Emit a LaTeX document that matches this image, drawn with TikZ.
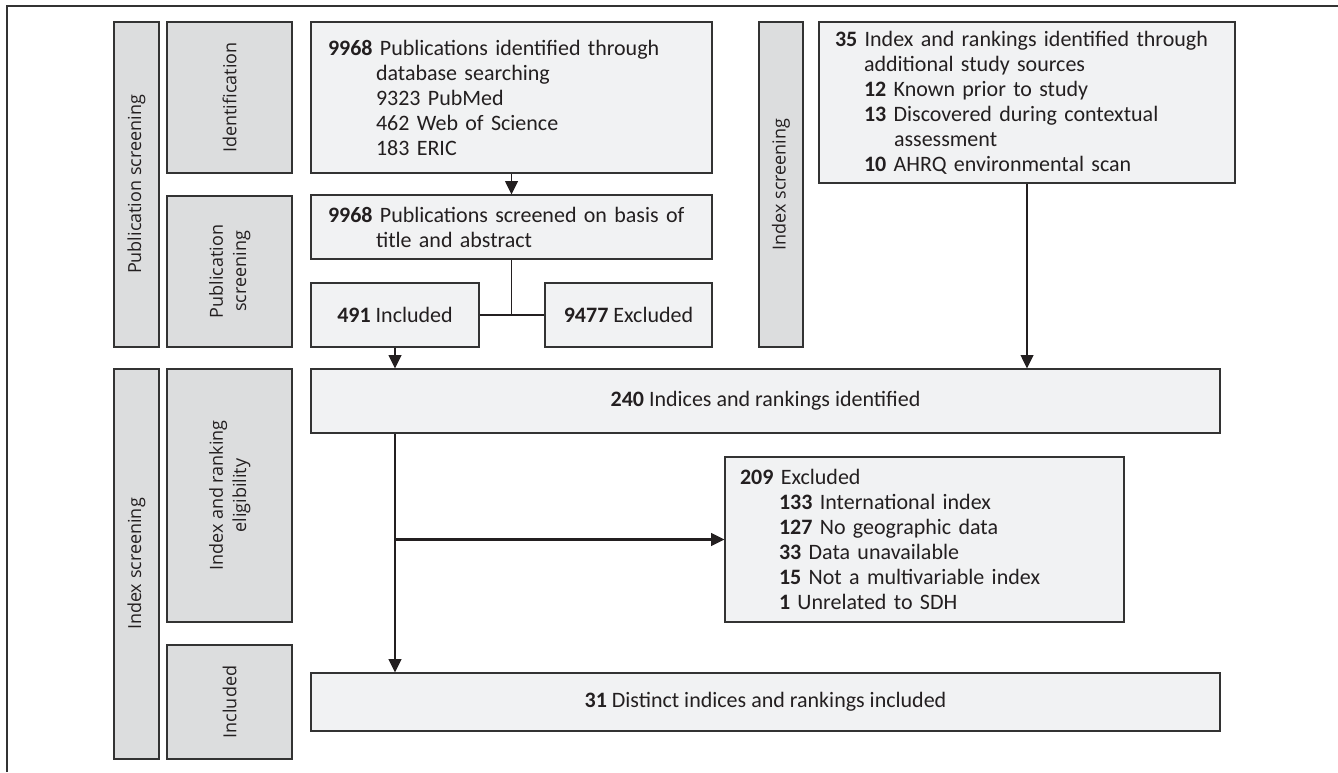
\documentclass[tikz,border=0pt]{standalone}
\usepackage{fontspec}
\setmainfont{Carlito}
\newfontfamily\bandfont{Open Sans}
\usetikzlibrary{arrows.meta,shadows}
\definecolor{bandfill}{HTML}{DCDDDE}
\definecolor{boxfill}{HTML}{F1F2F3}
\definecolor{edge}{HTML}{333333}
\definecolor{ink}{HTML}{231F20}
\begin{document}
\begin{tikzpicture}[x=0.75pt,y=-0.75pt,
  shadowed/.style={drop shadow={shadow xshift=0.9pt,shadow yshift=-0.9pt,fill=black!45,opacity=1}},
  band/.style={shadowed,draw=edge,line width=0.9pt,fill=bandfill,inner sep=0pt,text=ink,
    font=\bandfont\fontsize{13.5}{18.5}\selectfont},
  box/.style={shadowed,draw=edge,line width=0.9pt,fill=boxfill,inner sep=0pt,text=ink,
    font=\fontsize{16.5}{18.75}\selectfont},
  lbox/.style={box,align=left},
  cbox/.style={box,align=center},
  conn/.style={line width=1.4pt,draw=ink},
  thinconn/.style={line width=0.9pt,draw=ink},
  arr/.style={conn,-{Triangle[length=10pt,width=9.5pt]}}]
\useasboundingbox (0,0) rectangle (1338,772);
% frame
\draw[line width=1.5pt,edge] (7,772) -- (7,6) -- (1338,6);
% bands
\node[band,minimum width=33.75pt,minimum height=243.75pt] (pso) at (136.5,184.5)
  {\rotatebox{90}{Publication screening}};
\node[band,minimum width=93.75pt,minimum height=113.25pt] (ident) at (229.5,97.5)
  {\rotatebox{90}{Identification}};
\node[band,minimum width=93.75pt,minimum height=113.25pt] (psi) at (229.5,271.5)
  {\rotatebox{90}{\begin{tabular}{@{}c@{}}Publication\\[-1pt]screening\end{tabular}}};
\node[band,minimum width=33pt,minimum height=243.75pt] (ist) at (781,184.5)
  {\rotatebox{90}{Index screening}};
\node[band,minimum width=33.75pt,minimum height=292.5pt] (iso) at (136.5,564)
  {\rotatebox{90}{Index screening}};
\node[band,minimum width=93.75pt,minimum height=189.75pt] (elig) at (229.5,495.5)
  {\rotatebox{90}{\begin{tabular}{@{}c@{}}Index and ranking\\[-1pt]eligibility\end{tabular}}};
\node[band,minimum width=93.75pt,minimum height=85.5pt] (incl) at (229.5,702)
  {\rotatebox{90}{Included}};
% boxes
\node[lbox,minimum width=300.75pt,minimum height=113.25pt,text width=275.25pt] (b1) at (511.5,97.5)
  {\textbf{9968} Publications identified through\\
   \hspace*{36pt}database searching\\
   \hspace*{36pt}9323 PubMed\\
   \hspace*{36pt}462 Web of Science\\
   \hspace*{36pt}183 ERIC};
\node[lbox,minimum width=300.75pt,minimum height=48pt,text width=275.25pt] (b2) at (511.5,227)
  {\textbf{9968} Publications screened on basis of\\
   \hspace*{36pt}title and abstract};
\node[cbox,minimum width=126pt,minimum height=48pt] (inc) at (395,315)
  {\textbf{491} Included};
\node[cbox,minimum width=125.25pt,minimum height=48pt] (exc) at (628.5,315)
  {\textbf{9477} Excluded};
\node[lbox,minimum width=312pt,minimum height=120.75pt,text width=288pt] (b35) at (1027,102.5)
  {\textbf{35} Index and rankings identified through\\
   \hspace*{21.75pt}additional study sources\\
   \hspace*{21.75pt}\textbf{12} Known prior to study\\
   \hspace*{21.75pt}\textbf{13} Discovered during contextual\\
   \hspace*{44.25pt}assessment\\
   \hspace*{21.75pt}\textbf{10} AHRQ environmental scan};
\node[cbox,minimum width=681.75pt,minimum height=48pt] (b240) at (765.5,401)
  {\textbf{240} Indices and rankings identified};
\node[lbox,minimum width=299.25pt,minimum height=123.75pt,text width=276.75pt] (b209) at (924.5,539.5)
  {\textbf{209} Excluded\\
   \hspace*{29.25pt}\textbf{133} International index\\
   \hspace*{29.25pt}\textbf{127} No geographic data\\
   \hspace*{29.25pt}\textbf{33} Data unavailable\\
   \hspace*{29.25pt}\textbf{15} Not a multivariable index\\
   \hspace*{29.25pt}\textbf{1} Unrelated to SDH};
\node[cbox,minimum width=681.75pt,minimum height=43.5pt] (b31) at (765.5,702)
  {\textbf{31} Distinct indices and rankings included};
% connectors
\draw[arr] (b1.south) -- (b2.north);
\draw[thinconn] (b2.south) -- (b2.south |- inc.east);
\draw[thinconn] (inc.east) -- (exc.west);
\draw[arr] (inc.south) -- (b240.north -| inc.south);
\draw[arr] (b35.south) -- (b35.south |- b240.north);
\coordinate (split) at (inc.south |- b209.west);
\draw[arr] (b240.south -| inc.south) -- (b31.north -| inc.south);
\draw[arr,line width=1.7pt] (split) -- (b209.west);
\end{tikzpicture}
\end{document}
